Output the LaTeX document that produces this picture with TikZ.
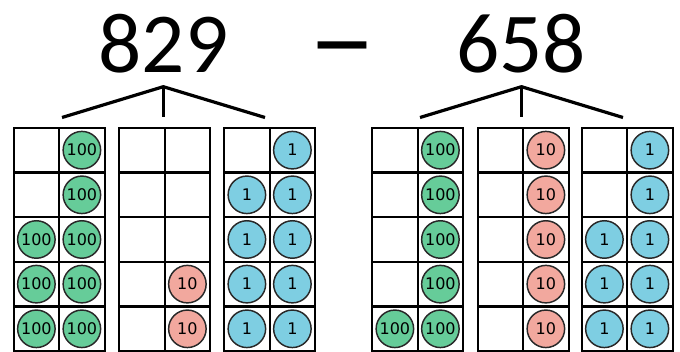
\documentclass[tikz,border=0pt]{standalone}
\usepackage{fontspec}
\setmainfont{Carlito}
\newfontfamily\chipfont{DejaVu Sans}
\definecolor{hundc}{RGB}{102,204,153}
\definecolor{tenc}{RGB}{242,168,158}
\definecolor{onec}{RGB}{126,206,226}
\definecolor{rimc}{RGB}{40,40,40}
\tikzset{
  bignum/.style={anchor=base,inner sep=0pt,font=\fontsize{64}{64}\selectfont},
  treeline/.style={line width=2.4pt},
  cellbox/.style={draw=black,line width=1.7pt,minimum width=45.5*0.75pt,minimum height=44.66*0.75pt,inner sep=0pt,anchor=north west},
  chip/.style={circle,draw=rimc,line width=1.1pt,minimum size=37.5*0.75pt,inner sep=0pt,font=\chipfont\fontsize{12}{12}\selectfont},
  hund/.style={chip,fill=hundc},
  tenchip/.style={chip,fill=tenc},
  onechip/.style={chip,fill=onec},
}
\begin{document}
\begin{tikzpicture}[x=0.75pt,y=-0.75pt]
\useasboundingbox (0,0) rectangle (680,352);
% numbers
\node[bignum] (nA) at (163.5,73) {829};
\node[bignum] (minus) at (342,77.5) {\scalebox{1.6}[1.35]{–}};
\node[bignum] (nB) at (521,73) {658};
% tree connectors
\coordinate (apA) at (163.3,86.7);
\coordinate (apB) at (521.5,86.7);
\coordinate (lA1) at (62,117.5);
\coordinate (lA2) at (163.3,117.5);
\coordinate (lA3) at (265,117.5);
\coordinate (lB1) at (420,117.5);
\coordinate (lB2) at (521.5,117.5);
\coordinate (lB3) at (623,117.5);
\draw[treeline] (lA1) -- (apA) -- (lA3);
\draw[treeline] (apA) -- (lA2);
\draw[treeline] (lB1) -- (apB) -- (lB3);
\draw[treeline] (apB) -- (lB2);
% grids: name/left/count/style/label
\foreach \g/\gx/\n/\st/\lab in {g1/12.5/8/hund/100, g2/118/2/tenchip/10, g3/223/9/onechip/1, g4/371/6/hund/100, g5/476.5/5/tenchip/10, g6/580.5/8/onechip/1}{
  \foreach \r in {1,...,5}{
    \foreach \c in {1,2}{
      \node[cellbox] (\g c\c r\r) at ({\gx+(\c-1)*45.5},{126.7+(\r-1)*44.66}) {};
    }
  }
  \foreach \r in {1,...,5}{
    % right column filled from bottom
    \pgfmathtruncatemacro{\need}{6-min(\n,5)}
    \ifnum\r<\need\else
      \node[\st] (\g k2r\r) at (\g c2r\r.center) {\lab};
    \fi
    \pgfmathtruncatemacro{\needl}{6-max(\n-5,0)}
    \ifnum\r<\needl\else
      \node[\st] (\g k1r\r) at (\g c1r\r.center) {\lab};
    \fi
  }
}
\end{tikzpicture}
\end{document}
